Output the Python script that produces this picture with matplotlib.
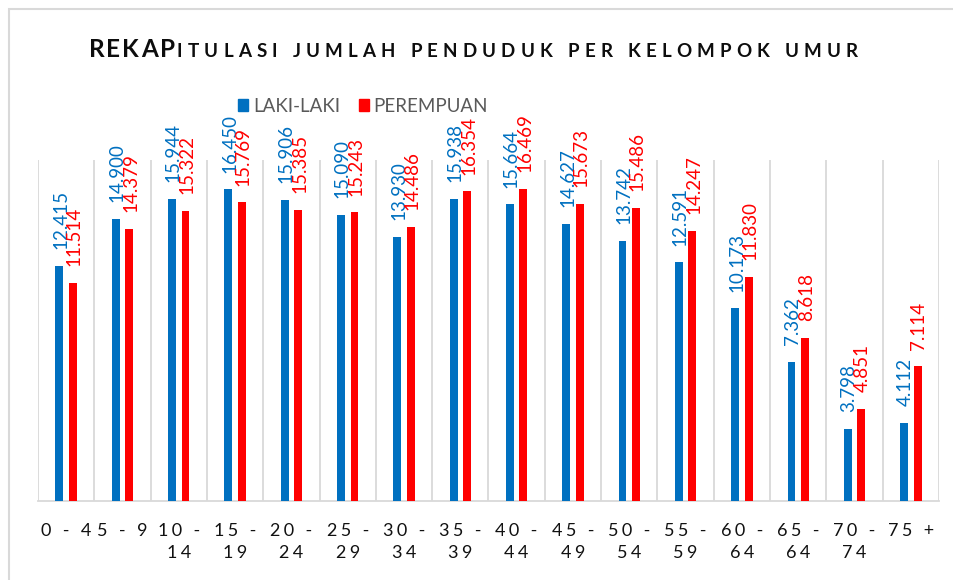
import numpy as np
import matplotlib
matplotlib.use('Agg')
import matplotlib.pyplot as plt
from matplotlib.patches import Patch, Rectangle
from matplotlib.transforms import IdentityTransform

# data
groups = ['0 - 4', '5 - 9', '10 -\n14', '15 -\n19', '20 -\n24', '25 -\n29', '30 -\n34',
          '35 -\n39', '40 -\n44', '45 -\n49', '50 -\n54', '55 -\n59', '60 -\n64',
          '65 -\n64', '70 -\n74', '75 +']
laki = [12.415, 14.900, 15.944, 16.450, 15.906, 15.090, 13.930, 15.938,
        15.664, 14.627, 13.742, 12.591, 10.173, 7.362, 3.798, 4.112]
perempuan = [11.514, 14.379, 15.322, 15.769, 15.385, 15.243, 14.486, 16.354,
             16.469, 15.673, 15.486, 14.247, 11.830, 8.618, 4.851, 7.114]

BLUE = '#0070C0'
RED = '#FF0000'
GRID = '#d9d9d9'
FONT = ['Lato', 'DejaVu Sans']

plt.rcParams['font.family'] = FONT

W, H = 954, 580
fig = plt.figure(figsize=(W / 100, H / 100), dpi=100)

# plot area in pixels: x 38..939, y 160..501
ax = fig.add_axes([38 / W, 1 - 501 / H, (939 - 38) / W, (501 - 160) / H])

x = np.arange(len(groups))
w = 0.14
off = 0.12
bars_l = ax.bar(x - off, laki, w, color=BLUE, zorder=3)
bars_p = ax.bar(x + off, perempuan, w, color=RED, zorder=3)

# rotated value labels above each bar
for bars, vals, col in [(bars_l, laki, BLUE), (bars_p, perempuan, RED)]:
    for r, v in zip(bars, vals):
        ax.annotate(f'{v:.3f}', xy=(r.get_x() + r.get_width() / 2, v),
                    xytext=(1, 12), textcoords='offset points',
                    rotation=90, ha='center', va='bottom',
                    color=col, fontsize=13.5, zorder=4)

ax.set_xlim(-0.5, len(groups) - 0.5)
ax.set_ylim(0, 18)

# vertical separators between categories
ax.set_xticks(np.arange(-0.5, len(groups), 1), minor=True)
ax.grid(which='minor', axis='x', color=GRID, lw=1.3, zorder=0)
ax.grid(which='major', visible=False)


def spaced(label):
    return '\n'.join('\u2009\u200a'.join(line) for line in label.split('\n'))


ax.set_xticks(x)
ax.set_xticklabels([spaced(g) for g in groups], fontsize=13, color='#111111',
                   linespacing=1.45)
ax.tick_params(which='both', length=0)
ax.tick_params(axis='x', pad=16)
ax.set_yticks([])

for s in ['top', 'right', 'left']:
    ax.spines[s].set_visible(False)
ax.spines['bottom'].set_color(GRID)
ax.spines['bottom'].set_linewidth(1.3)

# legend
handles = [Patch(color=BLUE, label='LAKI-LAKI'), Patch(color=RED, label='PEREMPUAN')]
fig.legend(handles=handles, loc='center', bbox_to_anchor=(363 / W, 1 - 106 / H),
           ncol=2, frameon=False, fontsize=13.5, labelcolor='#595959',
           handlelength=0.55, handleheight=0.55, handletextpad=0.25,
           columnspacing=1.0)

# title with letter spacing, drawn char by char
renderer = fig.canvas.get_renderer()
baseline = H - 57
TW = 'bold'


def char_widths(text, size):
    out = []
    for ch in text:
        if ch == ' ':
            out.append(size * 1.389 * 0.26)
            continue
        t = fig.text(0, 0, ch, fontsize=size, fontweight=TW, transform=IdentityTransform())
        out.append(t.get_window_extent(renderer).width)
        t.remove()
    return out


big, small = 'REKAP', 'ITULASI JUMLAH PENDUDUK PER KELOMPOK UMUR'
big_size, small_size = 17.5, 13.5
wb = char_widths(big, big_size)
ws = char_widths(small, small_size)
big_track = 2.0
start_small = 177
end_small = 858
small_track = (end_small - start_small - sum(ws)) / (len(small) - 1)
pos = start_small - sum(wb) - big_track * len(big)
for ch, cw in zip(big, wb):
    fig.text(pos, baseline, ch, fontsize=big_size, fontweight=TW, color='#0d0d0d',
             va='baseline', ha='left', transform=IdentityTransform())
    pos += cw + big_track
pos = start_small
for ch, cw in zip(small, ws):
    if ch != ' ':
        fig.text(pos, baseline, ch, fontsize=small_size, fontweight=TW, color='#0d0d0d',
                 va='baseline', ha='left', transform=IdentityTransform())
    pos += cw + small_track

# light chart border (cut off at right and bottom like the screenshot)
fig.patches.append(Rectangle((9 / W, -0.1), 1.2, 1.1 - 9 / H, transform=fig.transFigure,
                             fill=False, edgecolor=GRID, lw=1.5))

plt.savefig('out.png', dpi=100)
plt.close()
